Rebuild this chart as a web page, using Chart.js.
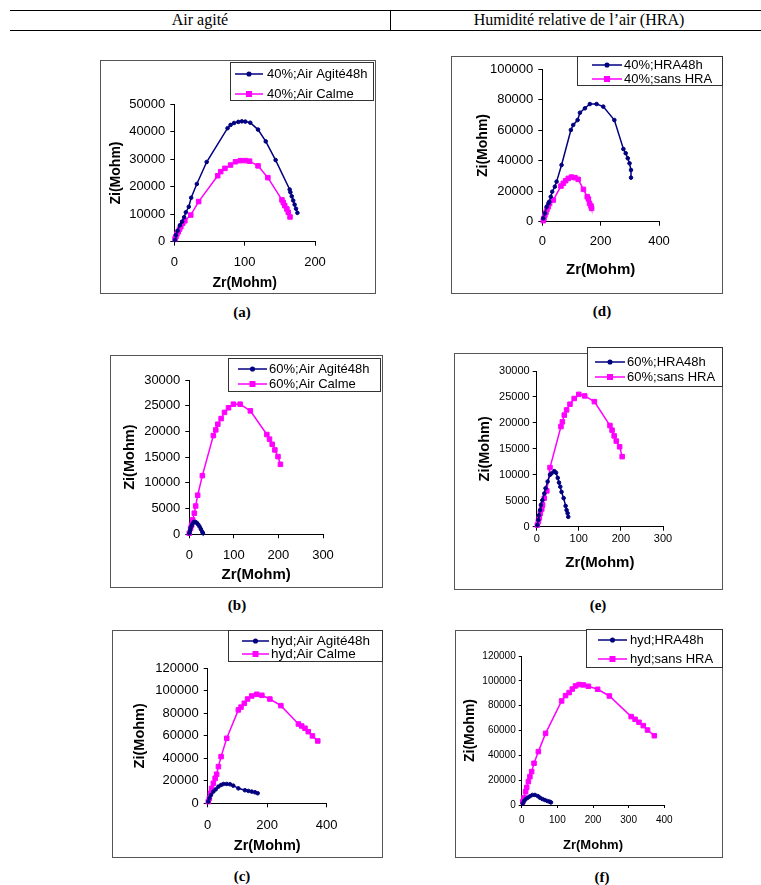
<!DOCTYPE html>
<html><head><meta charset="utf-8">
<script src="https://cdn.jsdelivr.net/npm/chart.js@4"></script>
<style>
body{margin:0;background:#fff;width:761px;height:885px;position:relative;overflow:hidden;font-family:"Liberation Sans",Arial,sans-serif;}
.box{position:absolute;border:1px solid #555;box-sizing:border-box;}
canvas{position:absolute;}
.hline{position:absolute;height:0;border-top:1px solid #000;}
.vline{position:absolute;width:0;border-left:1px solid #000;}
.hdr{position:absolute;font-family:"Liberation Serif","Times New Roman",serif;font-size:16px;transform:translate(-50%,-50%);white-space:nowrap;color:#000;}
.lab{position:absolute;font-family:"Liberation Serif","Times New Roman",serif;font-weight:bold;font-size:15px;transform:translate(-50%,-50%);color:#000;}
</style>
</head><body>
<div class="hline" style="left:10px;top:10px;width:751px"></div>
<div class="hline" style="left:10px;top:30px;width:751px"></div>
<div class="vline" style="left:390px;top:10px;height:20px"></div>
<div class="hdr" style="left:200px;top:20px">Air agité</div>
<div class="hdr" style="left:579px;top:20px">Humidité relative de l’air (HRA)</div>
<div class="lab" style="left:242px;top:312px">(a)</div>
<div class="lab" style="left:602px;top:311px">(d)</div>
<div class="lab" style="left:237px;top:605px">(b)</div>
<div class="lab" style="left:598px;top:605px">(e)</div>
<div class="lab" style="left:242px;top:876px">(c)</div>
<div class="lab" style="left:602px;top:877px">(f)</div>
<script>
// ---------- DATA ----------
// (a) 40 %
const a_agite_zr = [1, 2.3, 4.7, 8, 11, 14, 16.4, 20.6, 24, 32, 46, 75.7, 80, 85, 91, 96, 101, 108, 119, 130, 144, 164, 165, 167, 169, 171, 173, 175];
const a_agite_zi = [600, 2400, 4000, 6000, 7300, 8900, 10700, 12700, 16000, 21000, 29000, 41300, 42500, 43200, 43600, 43800, 43700, 43300, 40800, 36500, 29700, 19000, 18000, 16500, 15000, 13500, 12000, 10500];
const a_calme_zr = [1, 2.3, 3.7, 5.6, 7.5, 9.3, 12, 15, 23.4, 34.6, 61.7, 66, 72, 80, 87, 94, 101, 107, 119, 133, 153, 155, 157, 160, 162, 164.5];
const a_calme_zi = [1000, 1800, 2800, 3600, 4600, 5500, 6700, 7600, 9700, 14600, 24000, 25500, 26700, 27900, 29100, 29500, 29500, 29300, 27600, 23300, 15200, 14200, 13100, 11900, 10700, 9000];
const a_labels = ['40%;Air Agité48h', '40%;Air Calme'];
const a_xticks = [0, 100, 200];
const a_yticks = [0, 10000, 20000, 30000, 40000, 50000];

// (d) 40 % HRA
const d_hra_zr = [3.4, 9, 15, 21, 24, 29, 34, 43, 49, 66, 98, 106, 121, 129, 146, 163, 186, 209, 247, 278, 286, 293, 299, 304, 304];
const d_hra_zi = [2200, 5500, 9800, 12000, 13100, 16400, 19700, 23000, 26300, 37200, 60200, 63500, 66700, 71500, 74400, 77200, 77200, 75500, 66700, 47700, 44900, 41600, 38300, 33900, 28900];
const d_sans_zr = [3.4, 5.7, 9, 12.6, 16, 20.6, 25, 37.7, 64, 72, 80, 89, 100, 112, 123, 141, 154, 158, 162, 167, 169];
const d_sans_zi = [700, 2200, 4400, 6100, 8100, 9800, 12000, 14200, 23400, 25200, 26900, 28400, 29300, 28900, 27800, 21200, 16400, 14900, 12000, 10300, 8750];
const d_labels = ['40%;HRA48h', '40%;sans HRA'];
const d_xticks = [0, 200, 400];
const d_yticks = [0, 20000, 40000, 60000, 80000, 100000];

// (b) 60 %
const b_agite_zr = [0, 1.5, 3, 5, 7.5, 10.5, 14, 17, 20, 23, 26, 29, 30.6];
const b_agite_zi = [200, 650, 1200, 1600, 2100, 2400, 2400, 2200, 1900, 1500, 1000, 500, 200];
const b_calme_zr = [0, 3, 5.3, 7.5, 11.3, 14.3, 18.8, 29.3, 54, 59.4, 64, 71.4, 79, 88, 99, 114, 137, 174, 180, 186, 192, 199, 204.5];
const b_calme_zi = [200, 1200, 1800, 2800, 4100, 5500, 7600, 11400, 19200, 20300, 21400, 22500, 23700, 24600, 25300, 25300, 24000, 19400, 18500, 17500, 16400, 15100, 13600];
const b_labels = ['60%;Air Agité48h', '60%;Air Calme'];
const b_xticks = [0, 100, 200, 300];
const b_yticks = [0, 5000, 10000, 15000, 20000, 25000, 30000];

// (e) 60 % HRA
const e_hra_zr = [1.6, 4, 5.5, 8, 10, 13.4, 18, 21, 26, 31.6, 35.5, 42, 46, 50, 53, 56, 59, 64, 68.7, 71, 73.4, 75];
const e_hra_zi = [300, 1300, 2200, 3200, 4200, 5100, 6400, 7400, 8700, 10000, 10300, 10700, 10400, 9400, 8500, 7700, 6700, 5500, 4000, 3200, 2600, 1900];
const e_sans_zr = [1.6, 4, 6.3, 8.7, 12, 14, 18, 24, 31.6, 57.6, 61, 65.5, 71, 79, 89, 100, 114, 137, 174, 179, 184, 189, 197, 203];
const e_sans_zi = [300, 1000, 1700, 2600, 3400, 4200, 5500, 6900, 11400, 19300, 20200, 21500, 22500, 23600, 24700, 25500, 25200, 24100, 19500, 18600, 17500, 16500, 15400, 13500];
const e_labels = ['60%;HRA48h', '60%;sans HRA'];
const e_xticks = [0, 100, 200, 300];
const e_yticks = [0, 5000, 10000, 15000, 20000, 25000, 30000];

// (c) hydraté
const c_agite_zr = [2, 5.6, 11, 19, 27, 36, 45, 53, 64, 75, 86, 103, 125, 137, 148, 159, 168];
const c_agite_zi = [1500, 4400, 7400, 10400, 12400, 14800, 16300, 17200, 17200, 16900, 15700, 13300, 11600, 11000, 10400, 9800, 8900];
const c_calme_zr = [2, 5.6, 9, 13, 19, 25, 30, 36, 45, 64, 103, 112, 123, 134, 148, 165, 182, 209, 246, 305, 316, 327, 338, 352, 370];
const c_calme_zi = [1500, 4400, 8900, 13300, 17800, 22200, 25800, 32600, 41500, 57800, 83000, 85500, 88900, 92700, 95400, 96900, 96000, 92700, 86800, 70500, 68700, 66700, 63700, 59900, 55400];
const c_labels = ['hyd;Air Agité48h', 'hyd;Air Calme'];
const c_xticks = [0, 200, 400];
const c_yticks = [0, 20000, 40000, 60000, 80000, 100000, 120000];

// (f) hydraté HRA
const f_hra_zr = [3, 6.5, 11, 17, 23, 30, 37, 45, 51, 58, 65, 72, 78, 82];
const f_hra_zi = [1300, 3200, 4600, 5900, 7000, 8100, 8100, 7200, 5900, 4800, 4000, 3200, 2700, 2100];
const f_sans_zr = [3, 6.5, 11, 14, 18.7, 23, 28, 34.6, 46.7, 67, 112, 123, 133, 142, 151, 161, 173, 187, 213, 246, 307, 318, 329, 341, 353, 372];
const f_sans_zi = [2700, 5900, 10700, 14200, 18800, 22800, 26900, 33600, 43000, 57700, 83800, 88100, 90500, 93400, 95900, 97000, 96700, 95600, 93200, 87800, 71200, 69000, 66600, 63900, 60400, 55800];
const f_labels = ['hyd;HRA48h', 'hyd;sans HRA'];
const f_xticks = [0, 100, 200, 300, 400];
const f_yticks = [0, 20000, 40000, 60000, 80000, 100000, 120000];

// ---------- LAYOUT / STYLE ----------
const FONT = '"Liberation Sans", Arial, sans-serif';
const BLUE = '#000080', PINK = '#ff00ff';
const M = 10;

const panels = [
  {box:[100,60,276,234], area:[174.3,104.3,315,241.7], xt:a_xticks, yt:a_yticks,
   s1:[a_agite_zr,a_agite_zi], s2:[a_calme_zr,a_calme_zi], labels:a_labels,
   tickSize:13, tl:4, ypad:5, xpad:8.8, ytitleX:115.7, xtitleY:282.7, ytSize:14, xtSize:14,
   leg:{r:[230,62,144,39], rows:[74,94], l:[235,263], tx:267, fs:13}},
  {box:[451,56,272,238], area:[542.3,69.3,659,221.7], xt:d_xticks, yt:d_yticks,
   s1:[d_hra_zr,d_hra_zi], s2:[d_sans_zr,d_sans_zi], labels:d_labels,
   tickSize:13, tl:4, ypad:5, xpad:8.2, ytitleX:483, xtitleY:270, ytSize:14, xtSize:15,
   leg:{r:[577,56,146,30], rows:[65,79], l:[592,622], tx:624, fs:13}},
  {box:[110,355,273,233], area:[189.3,380,323,534.3], xt:b_xticks, yt:b_yticks,
   s1:[b_agite_zr,b_agite_zi], s2:[b_calme_zr,b_calme_zi], labels:b_labels,
   tickSize:13, tl:4, ypad:5, xpad:9.6, ytitleX:130, xtitleY:575, ytSize:14.5, xtSize:15,
   leg:{r:[228,358,153,34], rows:[369,384], l:[238,267], tx:269, fs:13}},
  {box:[454,353,269,237], area:[536.7,371,663,526.7], xt:e_xticks, yt:e_yticks,
   s1:[e_hra_zr,e_hra_zi], s2:[e_sans_zr,e_sans_zi], labels:e_labels,
   tickSize:11, tl:4, ypad:3, xpad:2, ytitleX:485, xtitleY:563.3, ytSize:14.5, xtSize:15,
   leg:{r:[587,347,136,40], rows:[362,377], l:[595,625], tx:627, fs:13}},
  {box:[112,630,271,228], area:[207.7,668.3,326.7,803.3], xt:c_xticks, yt:c_yticks,
   s1:[c_agite_zr,c_agite_zi], s2:[c_calme_zr,c_calme_zi], labels:c_labels,
   tickSize:13, tl:4, ypad:5, xpad:9.9, ytitleX:140, xtitleY:845.7, ytSize:14.5, xtSize:14.5,
   leg:{r:[228,630,155,32], rows:[641,654], l:[242,269], tx:271, fs:13.5}},
  {box:[455,630,268,228], area:[521.7,656,664.3,805], xt:f_xticks, yt:f_yticks,
   s1:[f_hra_zr,f_hra_zi], s2:[f_sans_zr,f_sans_zi], labels:f_labels,
   tickSize:10, tl:3, ypad:3, xpad:6, ytitleX:470, xtitleY:845, ytSize:14, xtSize:13,
   leg:{r:[586,629,137,39], rows:[640,659], l:[598,627], tx:630, fs:13}}
];

const legendPlugin = {
  id: 'boxLegend',
  afterDraw(chart, args, o) {
    const ctx = chart.ctx;
    const ox = o.ox, oy = o.oy, L = o.leg;
    ctx.save();
    const x = L.r[0]-ox, y = L.r[1]-oy, w = L.r[2], h = L.r[3];
    ctx.fillStyle = '#fff';
    ctx.fillRect(x, y, w, h);
    ctx.strokeStyle = '#333';
    ctx.lineWidth = 1;
    ctx.strokeRect(Math.round(x)+0.5, Math.round(y)+0.5, Math.round(w)-1, Math.round(h)-1);
    chart.data.datasets.forEach((ds, i) => {
      const ry = L.rows[i]-oy;
      ctx.strokeStyle = ds.borderColor;
      ctx.lineWidth = ds.borderWidth;
      ctx.beginPath();
      ctx.moveTo(L.l[0]-ox, ry);
      ctx.lineTo(L.l[1]-ox, ry);
      ctx.stroke();
      ctx.fillStyle = ds.backgroundColor;
      ctx.strokeStyle = ds.borderColor;
      Chart.helpers.drawPoint(ctx, {pointStyle: ds.pointStyle, radius: ds.pointRadius, borderWidth: 1, rotation: 0}, (L.l[0]+L.l[1])/2-ox, ry);
      ctx.fillStyle = '#000';
      ctx.font = L.fs + 'px ' + FONT;
      ctx.textAlign = 'left';
      ctx.textBaseline = 'middle';
      ctx.fillText(ds.label, L.tx-ox, ry+0.5);
    });
    ctx.restore();
  }
};

function pts(xs, ys){ return xs.map((x,i)=>({x:x, y:ys[i]})); }

panels.forEach(p => {
  const [bx, by, bw, bh] = p.box;
  const [al, at, ar, ab] = p.area;
  const border = document.createElement('div');
  border.className = 'box';
  border.style.left = bx+'px'; border.style.top = by+'px';
  border.style.width = bw+'px'; border.style.height = bh+'px';
  document.body.appendChild(border);
  const cv = document.createElement('canvas');
  const cw = bw + 2*M, ch = bh + 2*M;
  cv.width = cw; cv.height = ch;
  cv.style.left = (bx-M)+'px'; cv.style.top = (by-M)+'px';
  cv.style.width = cw+'px'; cv.style.height = ch+'px';
  document.body.appendChild(cv);

  const yScaleW = al - bx;
  const xScaleH = by + bh - ab;
  const ytPadTop = p.ytitleX - bx - p.ytSize/2;
  const xtPadBot = by + bh - p.xtitleY - p.xtSize/2;

  const axisCommon = () => ({
    type: 'linear',
    grid: {drawOnChartArea: false, drawTicks: true, tickLength: p.tl, tickColor: '#000', color: '#000', lineWidth: 1},
    border: {display: true, color: '#000', width: 1},
  });

  new Chart(cv, {
    type: 'scatter',
    data: {
      datasets: [
        {label: p.labels[0], data: pts(p.s1[0], p.s1[1]), showLine: true, borderColor: BLUE, backgroundColor: BLUE,
         borderWidth: 1.5, pointStyle: 'circle', pointRadius: 1.8, pointBorderWidth: 1, tension: 0, clip: false},
        {label: p.labels[1], data: pts(p.s2[0], p.s2[1]), showLine: true, borderColor: PINK, backgroundColor: PINK,
         borderWidth: 1.5, pointStyle: 'rect', pointRadius: 3.2, pointBorderWidth: 1, tension: 0, clip: false}
      ]
    },
    options: {
      responsive: false, animation: false, devicePixelRatio: 1,
      layout: {padding: {left: M, top: at - by + M, right: bx + bw - ar + M, bottom: M}},
      plugins: {legend: {display: false}, tooltip: {enabled: false}, boxLegend: {leg: p.leg, ox: bx - M, oy: by - M}},
      scales: {
        x: Object.assign(axisCommon(), {
          min: p.xt[0], max: p.xt[p.xt.length-1],
          afterBuildTicks: s => { s.ticks = p.xt.map(v => ({value: v})); },
          afterFit: s => { s.height = xScaleH; },
          ticks: {color: '#000', font: {family: FONT, size: p.tickSize}, padding: p.xpad, maxRotation: 0, autoSkip: false, callback: v => String(v)},
          title: {display: true, text: 'Zr(Mohm)', color: '#000', font: {family: FONT, size: p.xtSize, weight: 'bold', lineHeight: 1}, padding: {top: 0, bottom: xtPadBot}}
        }),
        y: Object.assign(axisCommon(), {
          min: p.yt[0], max: p.yt[p.yt.length-1],
          afterBuildTicks: s => { s.ticks = p.yt.map(v => ({value: v})); },
          afterFit: s => { s.width = yScaleW; },
          ticks: {color: '#000', font: {family: FONT, size: p.tickSize}, padding: p.ypad, autoSkip: false, callback: v => String(v)},
          title: {display: true, text: 'Zi(Mohm)', color: '#000', font: {family: FONT, size: p.ytSize, weight: 'bold', lineHeight: 1}, padding: {top: ytPadTop, bottom: 0}}
        })
      }
    },
    plugins: [legendPlugin]
  });
});
</script>
</body></html>
